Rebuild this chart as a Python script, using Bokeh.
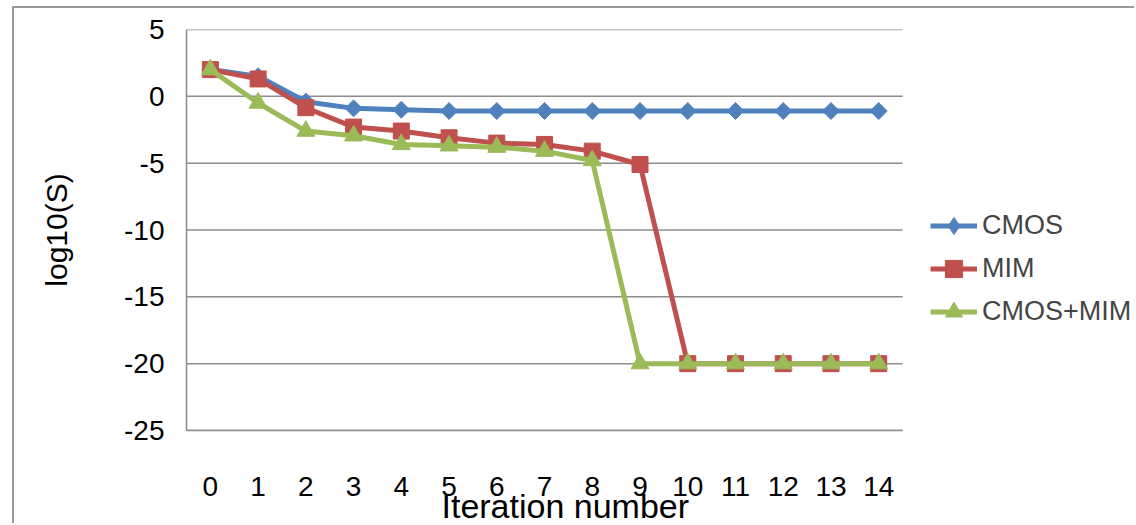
from bokeh.plotting import figure
from bokeh.models import FixedTicker, Legend, LegendItem, Title, Range1d
from bokeh.embed import file_html
from bokeh.resources import INLINE

iterations = list(range(15))
cmos = [2.0, 1.5, -0.4, -0.9, -1.0, -1.1, -1.1, -1.1, -1.1, -1.1, -1.1, -1.1, -1.1, -1.1, -1.1]
mim = [2.0, 1.3, -0.85, -2.3, -2.6, -3.1, -3.5, -3.6, -4.1, -5.1, -20, -20, -20, -20, -20]
cmos_mim = [2.0, -0.5, -2.6, -2.95, -3.6, -3.7, -3.8, -4.1, -4.8, -20, -20, -20, -20, -20, -20]
y_ticks = [5, 0, -5, -10, -15, -20, -25]
y_tick_labels = {t: str(t) for t in y_ticks}

FONT = "Liberation Sans"
GRID = "#8c8c8c"
BLUE = "#4F81BD"
RED = "#C0504D"
GREEN = "#9BBB59"

X_START, X_END = -0.5, 14.5   # category span of the plot area
X_VIEW_END = 19.4             # frame also hosts the legend on the right

p = figure(width=1122, height=517, output_backend="svg", toolbar_location=None,
           x_range=Range1d(X_START, X_VIEW_END), y_range=Range1d(-25, 5),
           min_border_left=172, min_border_top=21, min_border_right=0, min_border_bottom=95)
p.styles = {"margin-left": "12px", "margin-top": "6px",
            "border-left": "2px solid #9a9a9a", "border-top": "2px solid #9a9a9a"}
p.outline_line_color = None
p.background_fill_color = "white"
p.border_fill_color = "white"

p.xgrid.grid_line_color = None
p.ygrid.grid_line_color = None
# horizontal gridlines limited to the category span
p.segment(x0=[X_START] * len(y_ticks), x1=[X_END] * len(y_ticks), y0=y_ticks, y1=y_ticks,
          line_color=GRID, line_width=1.5, level="underlay")

p.yaxis.ticker = FixedTicker(ticks=y_ticks)
p.yaxis.major_label_overrides = y_tick_labels
p.xaxis.ticker = FixedTicker(ticks=iterations)
p.xaxis.bounds = (X_START, X_END)

for ax in (p.xaxis, p.yaxis):
    ax.axis_line_color = GRID
    ax.axis_line_width = 1.5
    ax.major_tick_line_color = None
    ax.minor_tick_line_color = None
    ax.major_tick_out = 0
    ax.major_tick_in = 0
    ax.major_label_text_font = FONT
    ax.major_label_text_font_size = "28px"
    ax.major_label_text_color = "black"

p.yaxis.major_label_standoff = 22
p.xaxis.major_label_standoff = 46
p.yaxis.axis_label = "log10(S)"
p.yaxis.axis_label_text_font = FONT
p.yaxis.axis_label_text_font_size = "30px"
p.yaxis.axis_label_text_font_style = "normal"
p.yaxis.axis_label_standoff = 48
p.yaxis.axis_label_text_color = "black"

xtitle = Title(text="Iteration number", align="left", offset=255, standoff=-28,
               text_font=FONT, text_font_size="34px", text_font_style="normal",
               text_color="black")
p.add_layout(xtitle, "below")

r1 = p.line(iterations, cmos, line_color=BLUE, line_width=5)
m1 = p.scatter(iterations, cmos, marker="square", angle=0.785398, size=12,
               fill_color=BLUE, line_color=BLUE)
r2 = p.line(iterations, mim, line_color=RED, line_width=5)
m2 = p.scatter(iterations, mim, marker="square", size=16, fill_color=RED, line_color=RED)
r3 = p.line(iterations, cmos_mim, line_color=GREEN, line_width=5)
m3 = p.scatter(iterations, cmos_mim, marker="triangle", size=18, fill_color=GREEN, line_color=GREEN)
# legend-only diamond (the legend does not rotate markers)
d1 = p.scatter(iterations, cmos, marker="diamond", size=20, fill_color=BLUE, line_color=BLUE,
               visible=False)

legend = Legend(items=[LegendItem(label="CMOS", renderers=[r1, d1]),
                       LegendItem(label="MIM", renderers=[r2, m2]),
                       LegendItem(label="CMOS+MIM", renderers=[r3, m3])],
                location=(744, 97), padding=0, margin=0, spacing=0,
                glyph_width=47, glyph_height=43, label_standoff=5,
                label_text_font=FONT, label_text_font_size="27px",
                inactive_fill_alpha=0,
                border_line_color=None, background_fill_alpha=0)
p.add_layout(legend)

open("out.html", "w").write(file_html(p, INLINE))
